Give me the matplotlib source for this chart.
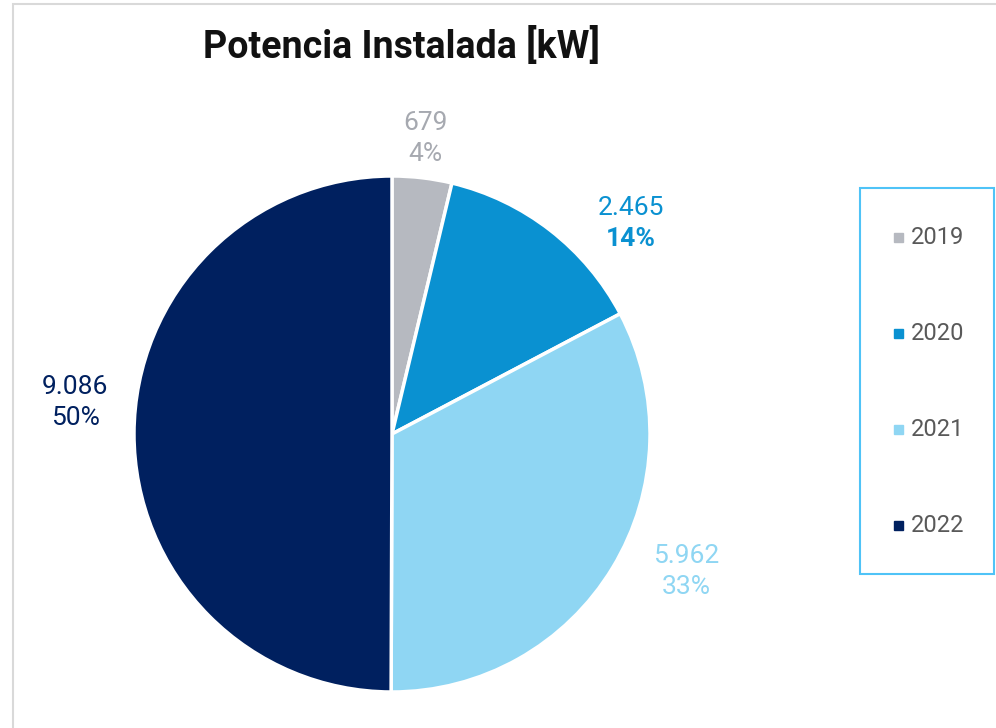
import matplotlib.pyplot as plt
from matplotlib.patches import Rectangle

plt.rcParams["font.family"] = ["Roboto", "DejaVu Sans"]

# data
years = ["2019", "2020", "2021", "2022"]
potencia_kw = [679, 2465, 5962, 9086]
value_labels = ["679", "2.465", "5.962", "9.086"]
pct_labels = ["4%", "14%", "33%", "50%"]

colors = ["#B6B9C0", "#0A91D1", "#8FD6F3", "#00205F"]
label_colors = ["#A6A9B0", "#0A91D1", "#8FD6F3", "#00205F"]
# label centres in pixels (x, y from top)
label_pos = [(425, 138), (631, 223), (686, 571), (75, 402)]
pct_bold = [False, True, False, False]

W, H = 996, 728
fig = plt.figure(figsize=(W / 100, H / 100), dpi=100)

# light outer frame
fig.add_artist(Rectangle((13 / W, -0.1), 1.1, 1 - 4 / H + 0.1,
                         transform=fig.transFigure, fill=False,
                         edgecolor="#D9D9D9", linewidth=1.5))

cx, cy, r = 392, 434, 258
ax = fig.add_axes([(cx - r) / W, (H - cy - r) / H, 2 * r / W, 2 * r / H])
ax.pie(potencia_kw, colors=colors, startangle=90, counterclock=False,
       radius=1, wedgeprops=dict(edgecolor="white", linewidth=2.5))
ax.set_xlim(-1, 1)
ax.set_ylim(-1, 1)
ax.axis("off")

for (x, y), v, p, c, b in zip(label_pos, value_labels, pct_labels, label_colors, pct_bold):
    fig.text(x / W, 1 - (y - 15) / H, v, color=c, fontsize=19,
             ha="center", va="center")
    fig.text(x / W, 1 - (y + 16) / H, p, color=c, fontsize=19,
             ha="center", va="center", fontweight="bold" if b else "normal")

fig.text(401 / W, 1 - 46 / H, "Potencia Instalada [kW]", fontsize=27,
         fontweight="bold", ha="center", va="center", color="#111111")

# legend box
lx0, ly0, lx1, ly1 = 860, 188, 994, 574
fig.add_artist(Rectangle((lx0 / W, 1 - ly1 / H), (lx1 - lx0) / W, (ly1 - ly0) / H,
                         transform=fig.transFigure, fill=False,
                         edgecolor="#4FC3F7", linewidth=1.5))
for i, (yr, c) in enumerate(zip(years, colors)):
    yy = 238 + i * 95.7
    fig.add_artist(Rectangle((894 / W, 1 - (yy + 4.5) / H), 9 / W, 9 / H,
                             transform=fig.transFigure, color=c))
    fig.text(911 / W, 1 - yy / H, yr, fontsize=17, color="#595959",
             ha="left", va="center")

fig.savefig("out.png", dpi=100)
